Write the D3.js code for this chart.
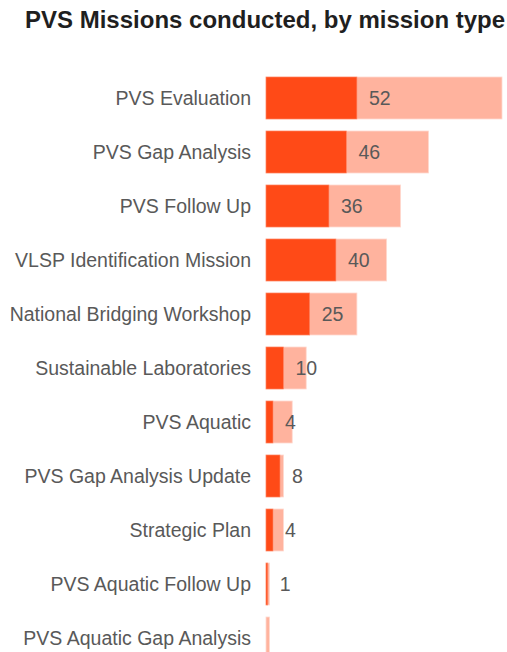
<!DOCTYPE html>
<html>
<head>
<meta charset="utf-8">
<script src="https://cdn.jsdelivr.net/npm/d3@7"></script>
<style>
  html, body { margin: 0; padding: 0; background: #fff; overflow: hidden; }
  svg { display: block; font-family: Arial, "Liberation Sans", sans-serif; }
</style>
</head>
<body>
<svg id="chart" width="507" height="652"></svg>
<script>
const categories = [
  "PVS Evaluation",
  "PVS Gap Analysis",
  "PVS Follow Up",
  "VLSP Identification Mission",
  "National Bridging Workshop",
  "Sustainable Laboratories",
  "PVS Aquatic",
  "PVS Gap Analysis Update",
  "Strategic Plan",
  "PVS Aquatic Follow Up",
  "PVS Aquatic Gap Analysis"
];
const conducted = [52, 46, 36, 40, 25, 10, 4, 8, 4, 1, 0];
const background = [135, 93, 77, 69, 52, 23, 15, 10, 10, 2, 2];
const titleText = "PVS Missions conducted, by mission type";

const data = categories.map((c, i) => ({ cat: c, dark: conducted[i], light: background[i] }));

const svg = d3.select("#chart");

svg.append("text")
  .attr("x", 25).attr("y", 28)
  .attr("font-size", 24).attr("font-weight", "bold")
  .attr("fill", "#1f1f1f")
  .text(titleText);

const x = d3.scaleLinear().domain([0, d3.max(background)]).range([266, 502]);
const y = d3.scaleBand().domain(categories).range([71, 665])
  .paddingInner(0.2222).paddingOuter(0.1111);

const g = svg.append("g");

g.selectAll("rect.light").data(data).join("rect")
  .attr("class", "light")
  .attr("x", x(0)).attr("y", d => y(d.cat))
  .attr("width", d => x(d.light) - x(0))
  .attr("height", y.bandwidth())
  .attr("fill", "#ffb39e")
  .attr("stroke", "#ffd9cf").attr("stroke-width", 0.8);

g.selectAll("rect.dark").data(data.filter(d => d.dark > 0)).join("rect")
  .attr("class", "dark")
  .attr("x", x(0)).attr("y", d => y(d.cat))
  .attr("width", d => x(d.dark) - x(0))
  .attr("height", y.bandwidth())
  .attr("fill", "#ff4a17")
  .attr("stroke", "#ff8a6a").attr("stroke-width", 0.6);

g.selectAll("text.cat").data(data).join("text")
  .attr("class", "cat")
  .attr("x", 251).attr("y", d => y(d.cat) + y.bandwidth() / 2 + 7)
  .attr("text-anchor", "end")
  .attr("font-size", 19.5)
  .attr("fill", "#595959")
  .text(d => d.cat);

g.selectAll("text.val").data(data.filter(d => d.dark > 0)).join("text")
  .attr("class", "val")
  .attr("x", d => x(d.dark) + 12)
  .attr("y", d => y(d.cat) + y.bandwidth() / 2 + 7)
  .attr("font-size", 19.5)
  .attr("fill", "#595959")
  .text(d => d.dark);
</script>
</body>
</html>
